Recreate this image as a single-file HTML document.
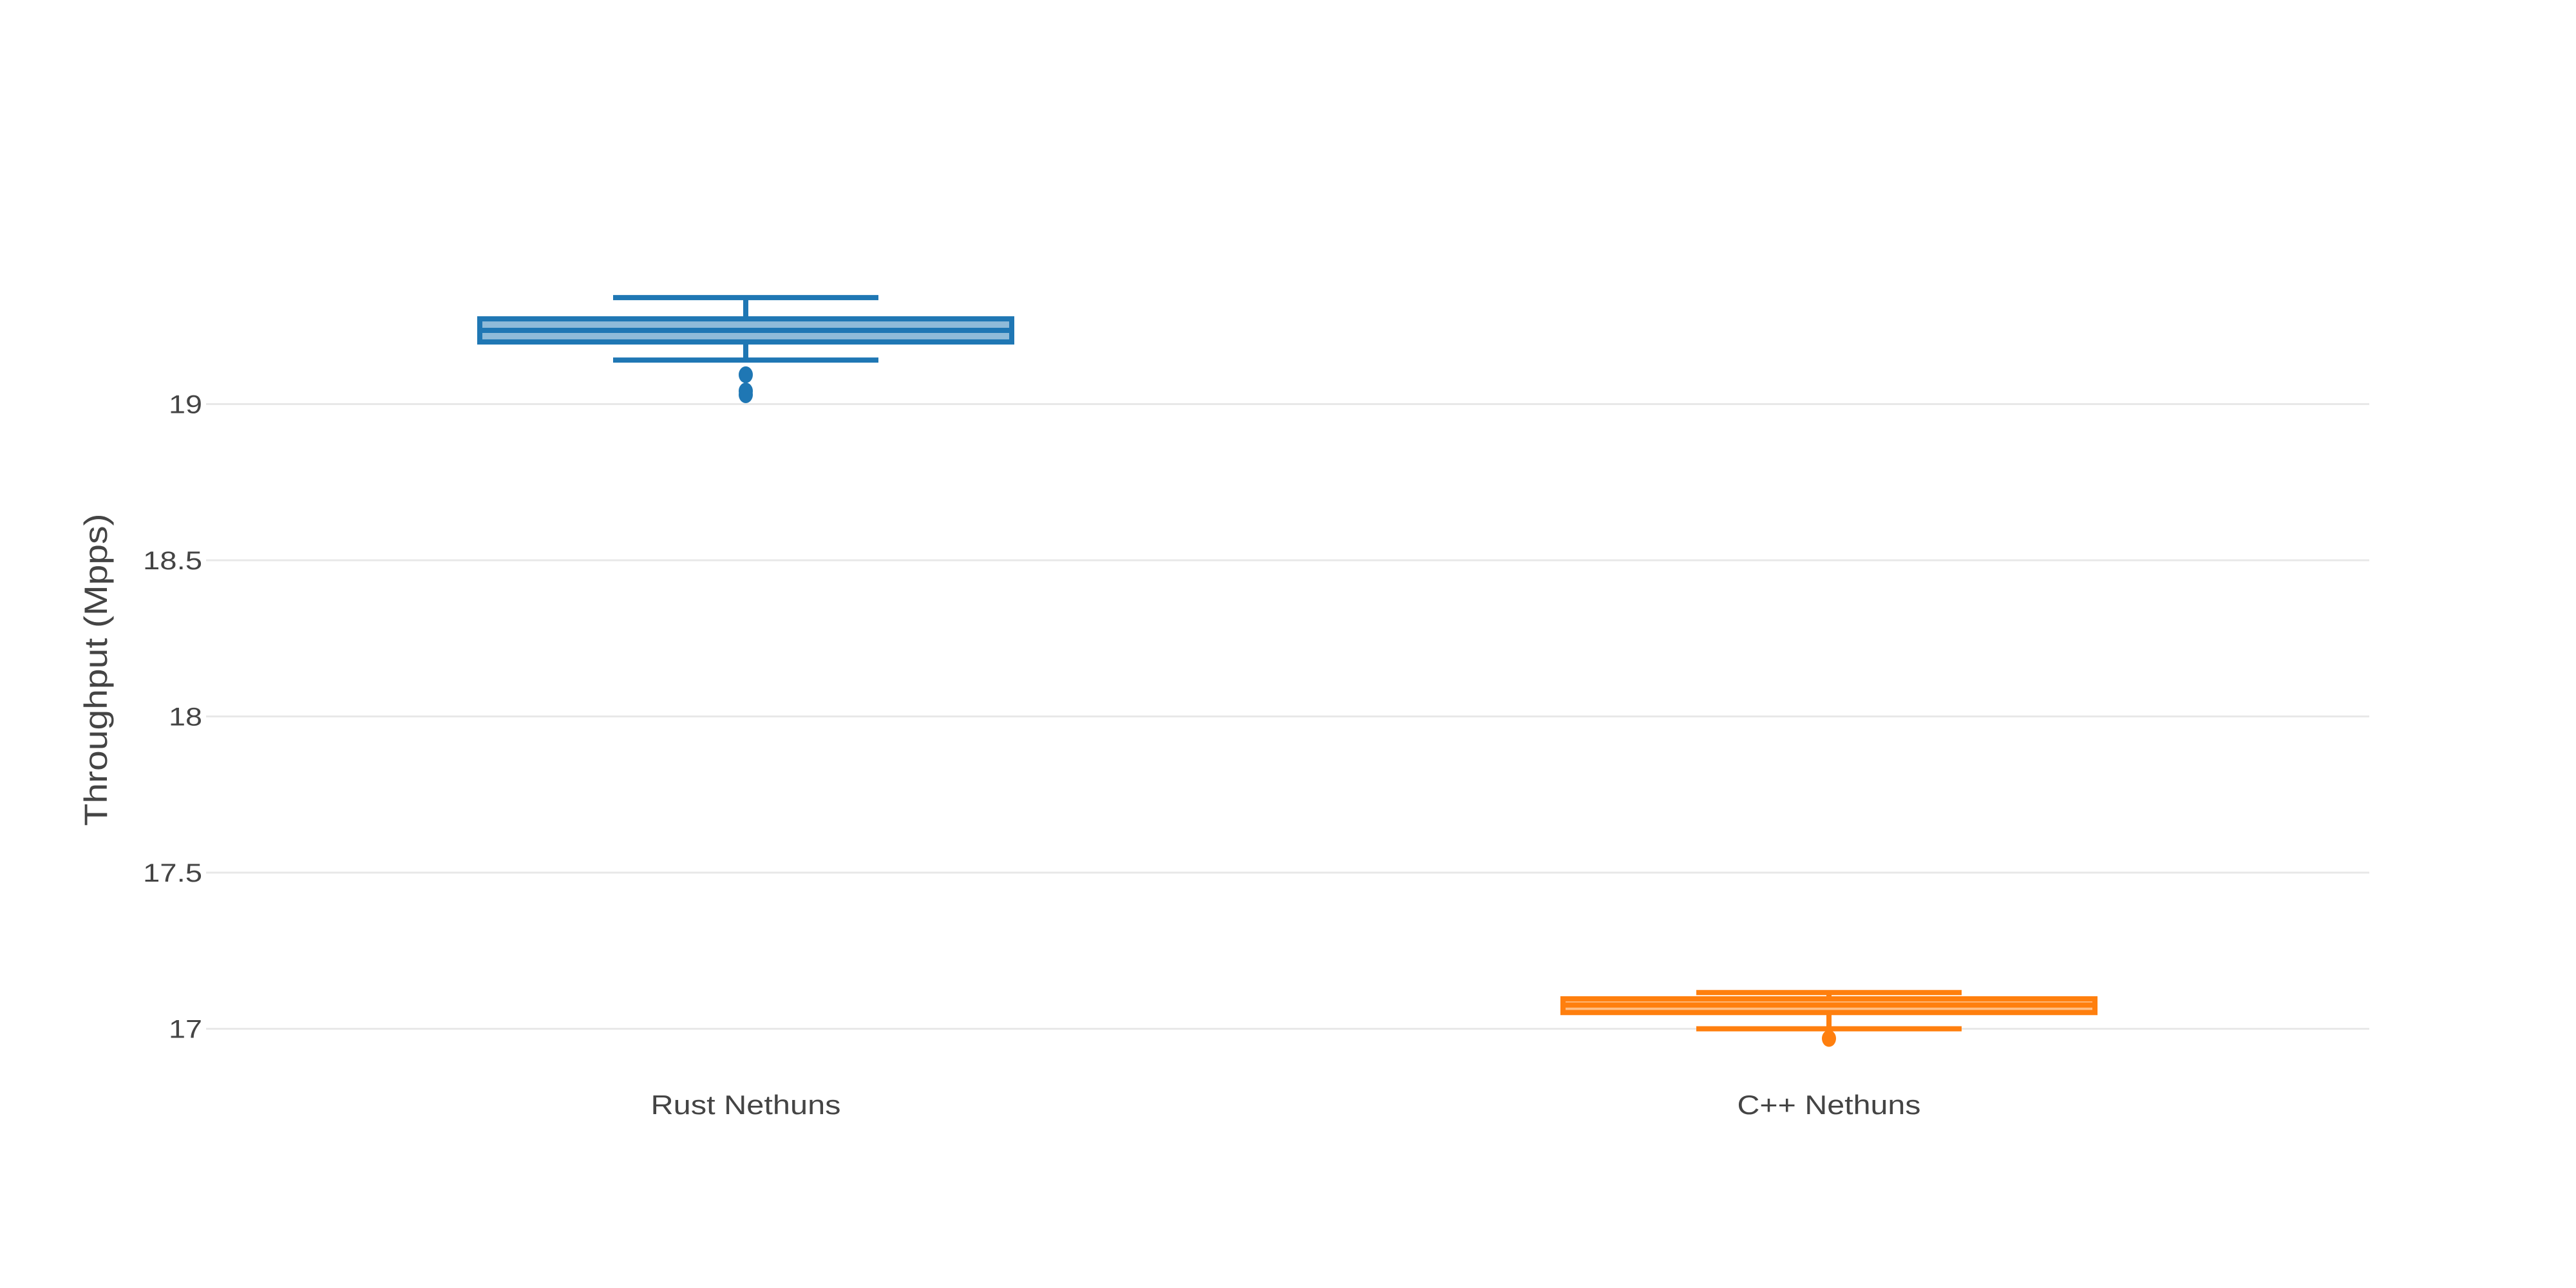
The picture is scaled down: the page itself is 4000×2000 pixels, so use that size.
<!DOCTYPE html>
<html><head><meta charset="utf-8"><style>
html,body{margin:0;padding:0;background:#fff;}
svg{display:block;font-family:"Liberation Sans",sans-serif;}
</style></head><body>
<svg id="chart" width="4000" height="2000" viewBox="0 0 4000 2000" xmlns="http://www.w3.org/2000/svg">
<rect width="4000" height="2000" fill="#fff"/>
<g id="grid"></g>
<g id="yticks"></g>
<g id="boxes"></g>
<g id="xlabels"></g>
<text transform="translate(166,1040) rotate(-90)" text-anchor="middle" font-size="50" fill="#444" textLength="485" lengthAdjust="spacingAndGlyphs">Throughput (Mpps)</text>
</svg>
<script>
const categories = ["Rust Nethuns", "C++ Nethuns"];
const colors = ["#1f77b4", "#ff7f0e"];
const fills = ["rgba(31,119,180,0.5)", "rgba(255,127,14,0.5)"];
const upperWhisker = [19.341, 17.116];
const q3 = [19.273, 17.096];
const median = [19.236, 17.076];
const q1 = [19.199, 17.052];
const lowerWhisker = [19.141, 17.0];
const outliers = [[19.094, 19.042, 19.030], [16.969]];
const yTicks = [17, 17.5, 18, 18.5, 19];
const yTickLabels = ["17", "17.5", "18", "18.5", "19"];

const NS = "http://www.w3.org/2000/svg";
const plotL = 320, plotR = 3679;
function y(v){ return 627.5 + (19 - v) * 485; }
function xc(i){ return 1158 + i * (2840 - 1158); }
function el(tag, attrs, parent){
  const e = document.createElementNS(NS, tag);
  for (const k in attrs) e.setAttribute(k, attrs[k]);
  parent.appendChild(e); return e;
}
const grid = document.getElementById('grid');
const yt = document.getElementById('yticks');
yTicks.forEach((t, i) => {
  const l = el('line', {x1: plotL, x2: plotR, y1: y(t), y2: y(t), stroke: '#e8e8e8', 'stroke-width': 3}, grid);
  
  
  const tx = el('text', {x: 314, y: y(t) + 14, 'text-anchor': 'end', 'font-size': 40, fill: '#444', textLength: yTickLabels[i].length > 2 ? 92 : 52, lengthAdjust: 'spacingAndGlyphs'}, yt);
  tx.textContent = yTickLabels[i];
  
  
});
const boxes = document.getElementById('boxes');
const xl = document.getElementById('xlabels');
const boxHalf = 413, whiskHalf = 206, lw = 8;
categories.forEach((c, i) => {
  const cx = xc(i), col = colors[i];
  const g = el('g', {}, boxes);
  
  
  const b = el('rect', {x: cx - boxHalf, y: y(q3[i]), width: 2 * boxHalf, height: y(q1[i]) - y(q3[i]), fill: fills[i], stroke: col, 'stroke-width': lw}, g);
  
  
  const m = el('line', {x1: cx - boxHalf, x2: cx + boxHalf, y1: y(median[i]), y2: y(median[i]), stroke: col, 'stroke-width': lw}, g);
  
  
  const w1 = el('line', {x1: cx, x2: cx, y1: y(upperWhisker[i]), y2: y(q3[i]), stroke: col, 'stroke-width': lw}, g);
  
  
  const w2 = el('line', {x1: cx, x2: cx, y1: y(q1[i]), y2: y(lowerWhisker[i]), stroke: col, 'stroke-width': lw}, g);
  
  
  [upperWhisker[i], lowerWhisker[i]].forEach(v => {
    const cap = el('line', {x1: cx - whiskHalf, x2: cx + whiskHalf, y1: y(v), y2: y(v), stroke: col, 'stroke-width': lw}, g);
    
    
  });
  outliers[i].forEach(v => {
    const o = el('ellipse', {cx: cx, cy: y(v), rx: 11, ry: 13, fill: col}, g);
    
    
  });
  const t = el('text', {x: cx, y: 1730, 'text-anchor': 'middle', 'font-size': 42, fill: '#444', textLength: i === 0 ? 295 : 285, lengthAdjust: 'spacingAndGlyphs'}, xl);
  t.textContent = c;
  
  
});
</script>
</body></html>
